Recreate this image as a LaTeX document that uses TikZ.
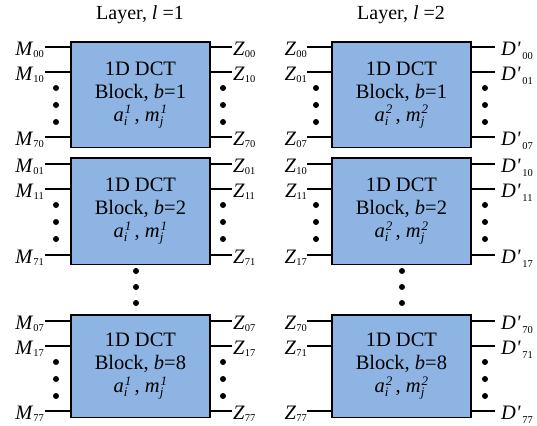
\documentclass[tikz,border=0pt]{standalone}
\usepackage{fontspec}
\setmainfont{Liberation Serif}
\newfontfamily\plainserif{Liberation Serif}

\definecolor{blockblue}{HTML}{8DB4E2}

% port label: italic letter with a lowered index
\newcommand\portlbl[2]{\textit{#1}\raisebox{-2.5bp}{\fontsize{10.5bp}{11bp}\selectfont #2}}
% primed output label
\newcommand\outlbl[1]{\textit{D}{\plainserif\itshape\char"0027}\hspace{2bp}\raisebox{-4.5bp}{\fontsize{10.5bp}{11bp}\selectfont #1}}
% coefficient with stacked sub- and superscript
\newcommand\coef[3]{\textit{#1}\rlap{\raisebox{-4bp}{\fontsize{13bp}{13bp}\selectfont\itshape #2}}\hspace{0.8bp}\raisebox{7.5bp}{\fontsize{13bp}{13bp}\selectfont\itshape #3}}

\tikzset{
  dctblock/.style={draw=black, line width=1.8bp, fill=blockblue,
    minimum width=139bp, inner sep=0, align=center,
    font=\rmfamily\fontsize{20.5bp}{23bp}\selectfont},
  stub/.style={draw=black, line width=1.8bp},
  vdot/.style={circle, fill=black, draw=none, inner sep=0, minimum size=6bp},
  portl/.style={inner sep=0, font=\rmfamily\fontsize{20.5bp}{23bp}\selectfont},
  title/.style={inner sep=0, font=\rmfamily\fontsize{20bp}{23bp}\selectfont},
}

\begin{document}
\begin{tikzpicture}[x=1bp, y=-1bp]
\useasboundingbox (0,0) rectangle (537,425);

% column headings
\node[title, anchor=base] (t1) at (140,19) {Layer, \textit{l} =1};
\node[title, anchor=base] (t2) at (401,19) {Layer, \textit{l} =2};

% rows: row / block index / data index / top / bottom / three port heights
\foreach \r/\b/\j/\top/\bot/\ya/\yb/\yc in
  {1/1/0/41/147/47/72/137, 2/2/1/157/264/164/189/255, 3/8/7/314/417/321/346/411}{
  % ---- layer 1 ----
  \node[dctblock, minimum height={\bot-\top}, anchor=north west] (L\r) at (70,\top)
    {1D DCT\\Block, \textit{b}=\b\\\coef{a}{i}{1}\,, \coef{m}{j}{1}};
  % ---- layer 2 ----
  \node[dctblock, minimum height={\bot-\top}, anchor=north west] (R\r) at (331,\top)
    {1D DCT\\Block, \textit{b}=\b\\\coef{a}{i}{2}\,, \coef{m}{j}{2}};

  \foreach \k/\y in {0/\ya, 1/\yb, 7/\yc}{
    % layer 1 inputs and outputs
    \coordinate (Lin\r\k) at (45,\y);
    \coordinate (Lout\r\k) at (232,\y);
    \draw[stub] (Lin\r\k) -- (Lin\r\k -| L\r.west);
    \draw[stub] (L\r.east |- Lout\r\k) -- (Lout\r\k);
    \node[portl, anchor=base east] (Mlbl\r\k) at (44,\y+8) {\portlbl{M}{\k\j}};
    \node[portl, anchor=base west] (Zlbl\r\k) at (233,\y+8) {\portlbl{Z}{\k\j}};
    % layer 2 inputs and outputs
    \coordinate (Rin\r\k) at (307,\y);
    \coordinate (Rout\r\k) at (495,\y);
    \draw[stub] (Rin\r\k) -- (Rin\r\k -| R\r.west);
    \draw[stub] (R\r.east |- Rout\r\k) -- (Rout\r\k);
    \node[portl, anchor=base east] (Zinlbl\r\k) at (307,\y+8) {\portlbl{Z}{\j\k}};
    \node[portl, anchor=base west] (Dlbl\r\k) at (501,\y+8) {\outlbl{\j\k}};
  }

  % ellipsis dots between the second and last ports
  \foreach \d/\dy in {1/16, 2/33, 3/50}{
    \node[vdot] (Ldl\r\d) at (56,\yb+\dy) {};
    \node[vdot] (Ldr\r\d) at (223,\yb+\dy) {};
    \node[vdot] (Rdr\r\d) at (485,\yb+\dy) {};
  }
}

% layer 2 input dots (first two blocks only)
\foreach \r/\yb in {1/72, 2/189}{
  \foreach \d/\dy in {1/16, 2/33, 3/50}{
    \node[vdot] (Rdl\r\d) at (316,\yb+\dy) {};
  }
}

% dots between block 2 and block 8
\foreach \d/\y in {1/271, 2/287, 3/303}{
  \node[vdot] (Lmid\d) at (136,\y) {};
  \node[vdot] (Rmid\d) at (402,\y) {};
}
\end{tikzpicture}
\end{document}
